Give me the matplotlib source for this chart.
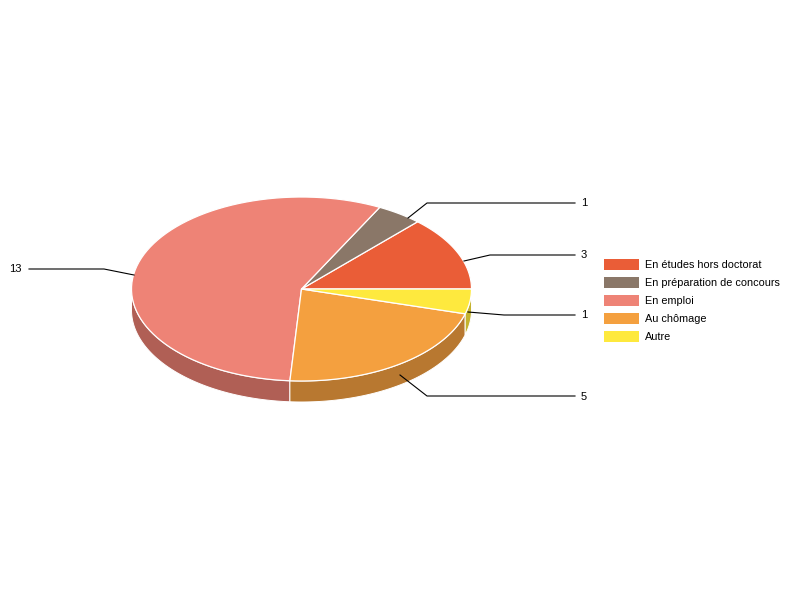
import numpy as np
import matplotlib
matplotlib.use('Agg')
import matplotlib.pyplot as plt
from matplotlib.patches import Polygon, Rectangle

plt.rcParams['font.family'] = ['Liberation Sans', 'DejaVu Sans']

labels = ['En études hors doctorat', 'En préparation de concours', 'En emploi', 'Au chômage', 'Autre']
values = [3, 1, 13, 5, 1]
colors = ['#EA5D37', '#8A7768', '#EE8376', '#F4A03F', '#FEE93E']
side_colors = ['#B5462A', '#6A5B4F', '#B05F55', '#B87830', '#C4B32E']

# pie geometry in pixels
cx, cy = 301.5, 289
rx, ry = 170, 92
depth = 21

fig = plt.figure(figsize=(8, 6), dpi=100)
ax = fig.add_axes([0, 0, 1, 1])
ax.set_xlim(0, 800)
ax.set_ylim(600, 0)
ax.axis('off')


def rim(a0, a1):
    t = np.radians(np.linspace(a0, a1, 80))
    return cx + rx * np.cos(t), cy - ry * np.sin(t)


# slices run counter-clockwise from the 3 o'clock position
angles = 360 * np.cumsum([0] + values) / sum(values)

# side walls, back to front
for i in range(len(values)):
    lo = max(angles[i], 180)
    hi = min(angles[i + 1], 360)
    if hi <= lo:
        continue
    x, y = rim(lo, hi)
    pts = np.r_[np.c_[x, y], np.c_[x[::-1], y[::-1] + depth]]
    ax.add_patch(Polygon(pts, closed=True, fc=side_colors[i], ec='white', lw=0.7, zorder=2))

# top faces
for i in range(len(values)):
    x, y = rim(angles[i], angles[i + 1])
    pts = np.r_[[[cx, cy]], np.c_[x, y]]
    ax.add_patch(Polygon(pts, closed=True, fc=colors[i], ec='white', lw=0.9, joinstyle='round', zorder=3))

# leader lines and value labels
leaders = [
    ([464, 490, 575], [261, 255, 255], 581, 'left'),
    ([408, 427, 575], [218, 203, 203], 581, 'left'),
    ([134, 104, 29], [275, 269, 269], 22, 'right'),
    ([400, 427, 575], [375, 396, 396], 581, 'left'),
    ([468, 504, 575], [312, 315, 315], 581, 'left'),
]
for v, (lx, ly, tx, ha) in zip(values, leaders):
    ax.plot(lx, ly, color='black', lw=0.8, zorder=4)
    ax.text(tx, ly[-1] + 0.5, str(v), ha=ha, va='center', fontsize=8, color='black', zorder=5)

# legend
for i, name in enumerate(labels):
    y = 264 + 18 * i
    ax.add_patch(Rectangle((604, y - 5.5), 35, 11, fc=colors[i], ec='none'))
    ax.text(645, y + 0.7, name, ha='left', va='center', fontsize=7.8, color='black')

fig.savefig('out.png', dpi=100)
